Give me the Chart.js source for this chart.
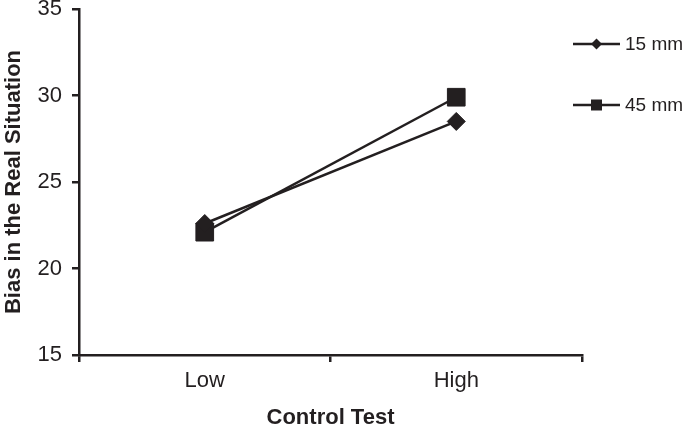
<!DOCTYPE html>
<html>
<head>
<meta charset="utf-8">
<script src="https://cdn.jsdelivr.net/npm/chart.js@4/dist/chart.umd.min.js"></script>
<style>
  html, body { margin: 0; padding: 0; background: #fff; }
  #wrap { width: 685px; height: 427px; }
</style>
</head>
<body>
<div id="wrap"><canvas id="chart"></canvas></div>
<script>
// ── Datos ──
const categorias = ['Low', 'High'];
const serie15mm  = [22.6, 28.5];
const serie45mm  = [22.1, 29.9];
const etiquetas  = ['15 mm', '45 mm'];
const yTicks     = [15, 20, 25, 30, 35];

const INK  = '#231f20';
const FONT = "'Liberation Sans', Arial, Helvetica, sans-serif";

/* ── Leyenda con línea + marcador, como en el original ── */
const lineLegend = {
  id: 'lineLegend',
  afterDraw(chart) {
    const ctx = chart.ctx;
    const x0 = chart.chartArea.right - 9;
    const x1 = x0 + 47;
    const rows = [44, 105];
    chart.data.datasets.forEach((ds, i) => {
      const y = rows[i];
      const xm = (x0 + x1) / 2;
      ctx.save();
      ctx.strokeStyle = INK;
      ctx.fillStyle = INK;
      ctx.lineWidth = 2.5;
      ctx.beginPath();
      ctx.moveTo(x0, y);
      ctx.lineTo(x1, y);
      ctx.stroke();
      ctx.beginPath();
      if (ds.pointStyle === 'rectRot') {
        const r = 5.5;
        ctx.moveTo(xm, y - r);
        ctx.lineTo(xm + r, y);
        ctx.lineTo(xm, y + r);
        ctx.lineTo(xm - r, y);
        ctx.closePath();
      } else {
        ctx.rect(xm - 5.5, y - 5.5, 11, 11);
      }
      ctx.fill();
      ctx.font = '19px ' + FONT;
      ctx.textBaseline = 'middle';
      ctx.textAlign = 'left';
      ctx.fillText(ds.label, x1 + 5, y + 1);
      ctx.restore();
    });
  }
};

new Chart(document.getElementById('chart'), {
  type: 'line',
  data: {
    labels: categorias,
    datasets: [
      {
        label: etiquetas[0],
        data: serie15mm,
        borderColor: INK,
        backgroundColor: INK,
        borderWidth: 2.5,
        pointStyle: 'rectRot',
        pointRadius: 9,
        pointBorderWidth: 1,
        tension: 0,
      },
      {
        label: etiquetas[1],
        data: serie45mm,
        borderColor: INK,
        backgroundColor: INK,
        borderWidth: 2.5,
        pointStyle: 'rect',
        pointRadius: 12.5,
        pointBorderWidth: 1,
        tension: 0,
      },
    ],
  },
  options: {
    responsive: true,
    maintainAspectRatio: false,
    animation: false,
    layout: { autoPadding: false, padding: { top: 9, right: 103, left: 0, bottom: 0 } },
    plugins: {
      legend: { display: false },
      tooltip: { enabled: false },
    },
    scales: {
      x: {
        offset: true,
        grid: { offset: true, drawOnChartArea: false, color: INK, lineWidth: 2.5, tickLength: 7 },
        border: { display: true, color: INK, width: 2.5 },
        ticks: { color: INK, font: { family: FONT, size: 22 }, padding: 6 },
        title: {
          display: true, text: 'Control Test', color: INK,
          font: { family: FONT, size: 22, weight: 'bold', lineHeight: 0.8 },
          padding: 0,
        },
        afterFit: s => { s.height = 72; s.paddingLeft = 0; s.paddingRight = 0; },
      },
      y: {
        min: 15,
        max: 35,
        afterBuildTicks: s => { s.ticks = yTicks.map(v => ({ value: v })); },
        grid: { drawOnChartArea: false, color: INK, lineWidth: 2.5, tickLength: 7 },
        border: { display: true, color: INK, width: 2.5 },
        ticks: { color: INK, font: { family: FONT, size: 22 }, padding: 10 },
        title: {
          display: true, text: 'Bias in the Real Situation', color: INK,
          font: { family: FONT, size: 22, weight: 'bold', lineHeight: 1.2 },
          padding: 1,
        },
        afterFit: s => { s.width = 79; s.paddingTop = 0; s.paddingBottom = 0; },
      },
    },
  },
  plugins: [lineLegend],
});
</script>
</body>
</html>
